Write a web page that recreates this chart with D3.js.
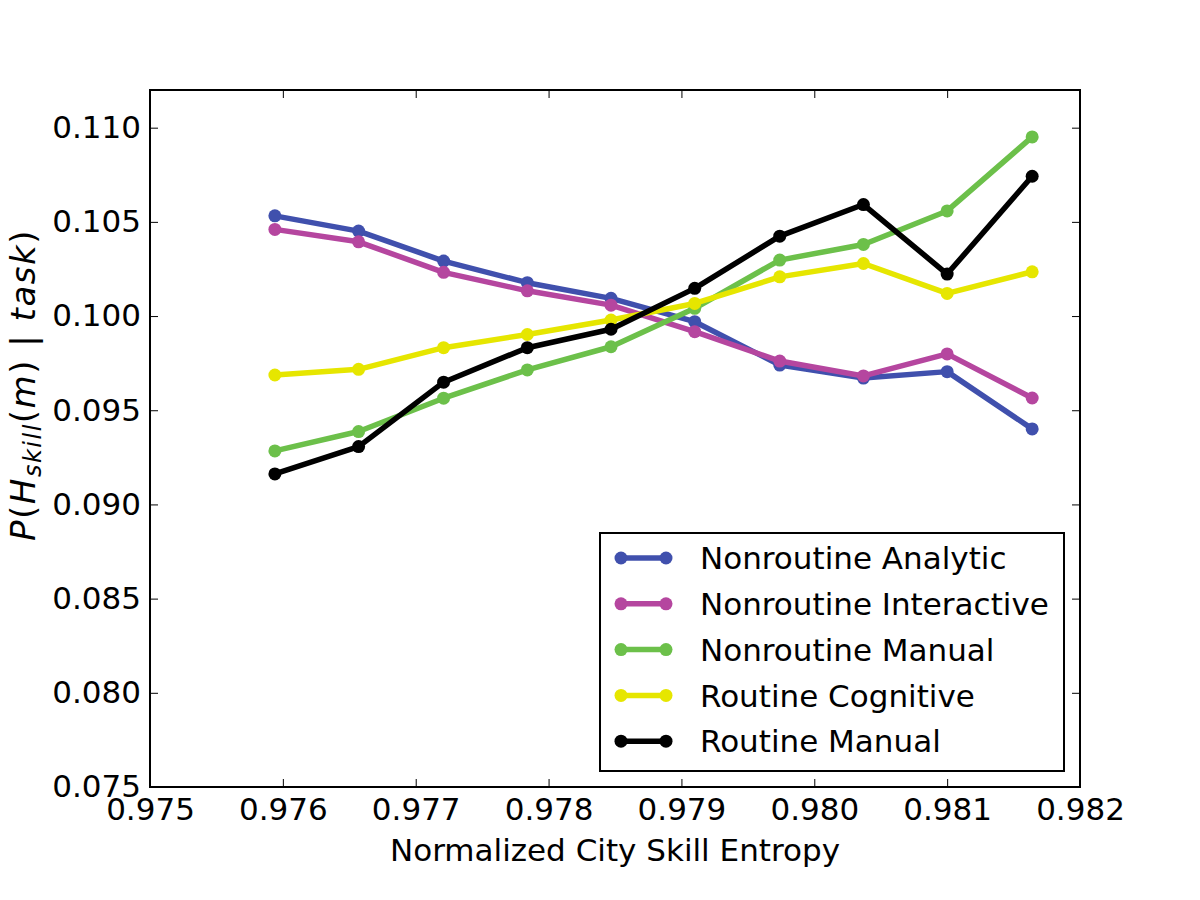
<!DOCTYPE html>
<html>
<head>
<meta charset="utf-8">
<script src="https://cdn.jsdelivr.net/npm/d3@7/dist/d3.min.js"></script>
<style>
  html, body { margin: 0; padding: 0; background: #fff; }
  svg { display: block; }
  text { font-family: "DejaVu Sans", sans-serif; fill: #000; }
</style>
</head>
<body>
<div id="chart"></div>
<script>
// Data
const entropy = [0.97594, 0.97657, 0.97721, 0.97784, 0.97847, 0.97910, 0.97974, 0.98037, 0.98100, 0.98164];

const nonroutineAnalytic    = [0.10532, 0.10451, 0.10292, 0.10177, 0.10094, 0.09970, 0.09740, 0.09671, 0.09705, 0.09401];
const nonroutineInteractive = [0.10460, 0.10394, 0.10232, 0.10134, 0.10058, 0.09917, 0.09761, 0.09682, 0.09799, 0.09565];
const nonroutineManual      = [0.09284, 0.09387, 0.09564, 0.09714, 0.09837, 0.10041, 0.10297, 0.10380, 0.10558, 0.10951];
const routineCognitive      = [0.09687, 0.09717, 0.09832, 0.09902, 0.09979, 0.10067, 0.10208, 0.10279, 0.10120, 0.10235];
const routineManual         = [0.09162, 0.09307, 0.09649, 0.09832, 0.09930, 0.10147, 0.10424, 0.10592, 0.10223, 0.10742];

const seriesNames = ['Nonroutine Analytic', 'Nonroutine Interactive', 'Nonroutine Manual', 'Routine Cognitive', 'Routine Manual'];
const seriesValues = [nonroutineAnalytic, nonroutineInteractive, nonroutineManual, routineCognitive, routineManual];
const seriesColors = ['#4050ad', '#b5469f', '#6cc04a', '#e6e600', '#000000'];

const xTicks = [0.975, 0.976, 0.977, 0.978, 0.979, 0.980, 0.981, 0.982];
const yTicks = [0.075, 0.080, 0.085, 0.090, 0.095, 0.100, 0.105, 0.110];

const width = 1200, height = 900;
const margin = { top: 90, right: 120, bottom: 113, left: 150 };
const innerW = width - margin.left - margin.right;
const innerH = height - margin.top - margin.bottom;

const svg = d3.select('#chart').append('svg')
    .attr('width', width)
    .attr('height', height);

const g = svg.append('g')
    .attr('transform', `translate(${margin.left},${margin.top})`);

const x = d3.scaleLinear().domain([0.975, 0.982]).range([0, innerW]);
const y = d3.scaleLinear().domain([0.075, 0.112]).range([innerH, 0]);

// Ticks point inward on all four sides (classic matplotlib look)
const tickLen = 8;
const fmt = d3.format('.3f');

const xAxisBottom = g.append('g')
    .attr('transform', `translate(0,${innerH})`)
    .call(d3.axisBottom(x).tickValues(xTicks).tickFormat(fmt).tickSizeInner(-tickLen).tickSizeOuter(0).tickPadding(11));
const xAxisTop = g.append('g')
    .call(d3.axisTop(x).tickValues(xTicks).tickFormat('').tickSizeInner(-tickLen).tickSizeOuter(0));
const yAxisLeft = g.append('g')
    .call(d3.axisLeft(y).tickValues(yTicks).tickFormat(fmt).tickSizeInner(-tickLen).tickSizeOuter(0).tickPadding(9));
const yAxisRight = g.append('g')
    .attr('transform', `translate(${innerW},0)`)
    .call(d3.axisRight(y).tickValues(yTicks).tickFormat('').tickSizeInner(-tickLen).tickSizeOuter(0));

[xAxisBottom, xAxisTop, yAxisLeft, yAxisRight].forEach(a => {
    a.select('.domain').remove();
    a.selectAll('.tick line').attr('stroke', '#000').attr('stroke-width', 1);
    a.selectAll('.tick text')
        .attr('font-family', '"DejaVu Sans", sans-serif')
        .attr('font-size', 31)
        .attr('fill', '#000');
});
xAxisBottom.selectAll('.tick text').attr('dy', '0.71em');

// Lines + markers
const line = d3.line()
    .x((d, i) => x(entropy[i]))
    .y(d => y(d));

seriesValues.forEach((vals, s) => {
    const sg = g.append('g');
    sg.append('path')
        .datum(vals)
        .attr('d', line)
        .attr('fill', 'none')
        .attr('stroke', seriesColors[s])
        .attr('stroke-width', 5.5)
        .attr('stroke-linejoin', 'round');
    sg.selectAll('circle')
        .data(vals)
        .enter()
        .append('circle')
        .attr('cx', (d, i) => x(entropy[i]))
        .attr('cy', d => y(d))
        .attr('r', 6.5)
        .attr('fill', seriesColors[s]);
});

// Frame
g.append('rect')
    .attr('width', innerW)
    .attr('height', innerH)
    .attr('fill', 'none')
    .attr('stroke', '#000')
    .attr('stroke-width', 2);

// Legend
const legend = g.append('g')
    .attr('transform', `translate(${600 - margin.left},${533 - margin.top})`);

legend.append('rect')
    .attr('width', 464)
    .attr('height', 238)
    .attr('fill', '#fff')
    .attr('stroke', '#000')
    .attr('stroke-width', 2);

seriesNames.forEach((name, i) => {
    const row = legend.append('g')
        .attr('transform', `translate(0,${25 + i * 45.8})`);
    row.append('line')
        .attr('x1', 21).attr('x2', 66)
        .attr('stroke', seriesColors[i])
        .attr('stroke-width', 5.5);
    row.selectAll('circle')
        .data([21, 66])
        .enter()
        .append('circle')
        .attr('cx', d => d)
        .attr('r', 6.5)
        .attr('fill', seriesColors[i]);
    row.append('text')
        .attr('x', 100)
        .attr('dy', '0.36em')
        .attr('font-size', 31)
        .text(name);
});

// Axis labels
svg.append('text')
    .attr('x', margin.left + innerW / 2)
    .attr('y', 861)
    .attr('text-anchor', 'middle')
    .attr('font-size', 31)
    .text('Normalized City Skill Entropy');

const yl = svg.append('text')
    .attr('transform', 'translate(35,385) rotate(-90)')
    .attr('text-anchor', 'middle')
    .attr('font-family', '"DejaVu Serif", "Liberation Serif", serif')
    .attr('letter-spacing', 1.5)
    .attr('font-size', 34);
const part = (t, italic, sub) => {
    const ts = yl.append('tspan').text(t);
    if (italic) ts.attr('font-style', 'italic');
    if (sub) ts.attr('font-size', 24).attr('baseline-shift', '-25%');
    return ts;
};
part('P', true);
part('(', false);
part('H', true);
part('skill', true, true);
part('(', false);
part('m', true);
part(')', false);
part(' | ', false);
part('task', true);
part(')', false);
</script>
</body>
</html>
